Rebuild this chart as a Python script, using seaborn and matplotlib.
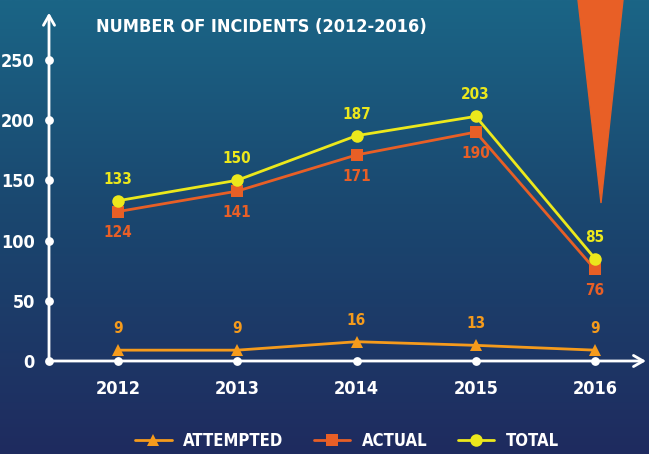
import numpy as np
import pandas as pd
import seaborn as sns
import matplotlib.pyplot as plt
from matplotlib.patches import Polygon

# data
years = ["2012", "2013", "2014", "2015", "2016"]
attempted = [9, 9, 16, 13, 9]
actual = [124, 141, 171, 190, 76]
total = [133, 150, 187, 203, 85]
y_ticks = [0, 50, 100, 150, 200, 250]

series_names = ["ATTEMPTED", "ACTUAL", "TOTAL"]
colors = {"ATTEMPTED": "#f59b1c", "ACTUAL": "#e85f26", "TOTAL": "#ece81c"}
markers = {"ATTEMPTED": "^", "ACTUAL": "s", "TOTAL": "o"}

rows = []
for name, vals in zip(series_names, [attempted, actual, total]):
    for i, v in enumerate(vals):
        rows.append({"pos": i, "value": v, "series": name})
df = pd.DataFrame(rows)

sns.set_style("white")
plt.rcParams["font.family"] = ["DejaVu Sans"]
plt.rcParams["font.stretch"] = "condensed"
plt.rcParams["font.weight"] = "bold"

fig = plt.figure(figsize=(6.49, 4.54), dpi=100)

# background gradient
bg = fig.add_axes([0, 0, 1, 1], zorder=-10)
top = np.array([27, 101, 134]) / 255
mid = np.array([26, 72, 112]) / 255
bot = np.array([31, 43, 95]) / 255
t = np.linspace(0, 1, 256)[:, None]
grad = np.where(t < 0.45, top + (mid - top) * (t / 0.45), mid + (bot - mid) * ((t - 0.45) / 0.55))
bg.imshow(grad[:, None, :], aspect="auto", extent=[0, 1, 0, 1])
bg.axis("off")

# orange wedge top right
fig.patches.append(Polygon([(578 / 649, 1.0), (623 / 649, 1.0), (601 / 649, 1 - 203 / 454)],
                           closed=True, transform=fig.transFigure, color="#e85f26", zorder=-5))

ax = fig.add_axes([0, 93 / 454, 1, (454 - 93) / 454])
ax.patch.set_alpha(0)

sns.lineplot(data=df, x="pos", y="value", hue="series", style="series",
             palette=colors, markers=markers, dashes=False, markersize=9,
             linewidth=2, markeredgewidth=0, ax=ax, zorder=3)

# axes span whole figure width; 2012 sits at px 118, step ~119 px
step = 119.25
x0 = (49 - 118) / step
ax.set_xlim(-118 / step, (649 - 118) / step)
ax.set_ylim(0, 361 / 1.205)

for s in ax.spines.values():
    s.set_visible(False)

# axes with arrows
ax.annotate("", xy=(x0, 289), xytext=(x0, 0),
            arrowprops=dict(arrowstyle="->,head_length=0.7,head_width=0.4", color="white", lw=2,
                            shrinkA=0, shrinkB=0))
ax.annotate("", xy=((646 - 118) / step, 0), xytext=(x0, 0),
            arrowprops=dict(arrowstyle="->,head_length=0.7,head_width=0.4", color="white", lw=2,
                            shrinkA=0, shrinkB=0))
ax.scatter([x0] * len(y_ticks), y_ticks, s=28, color="white", zorder=4, clip_on=False)
ax.scatter(range(len(years)), [0] * len(years), s=28, color="white", zorder=4, clip_on=False)

ax.set_xticks(range(len(years)))
ax.set_xticklabels(years, fontsize=13, color="white", fontweight="bold")
ax.set_yticks(y_ticks)
ax.set_yticklabels([str(v) for v in y_ticks], fontsize=13, color="white", fontweight="bold")
ax.tick_params(axis="x", length=0, pad=14)
ax.tick_params(axis="y", length=0, pad=-25)
ax.set_xlabel("")
ax.set_ylabel("")

# value labels
for i, v in enumerate(total):
    ax.annotate(str(v), (i, v), xytext=(0, 10), textcoords="offset points",
                ha="center", va="bottom", color=colors["TOTAL"], fontsize=11, fontweight="bold")
for i, v in enumerate(actual):
    ax.annotate(str(v), (i, v), xytext=(0, -10), textcoords="offset points",
                ha="center", va="top", color=colors["ACTUAL"], fontsize=11, fontweight="bold")
for i, v in enumerate(attempted):
    ax.annotate(str(v), (i, v), xytext=(0, 10), textcoords="offset points",
                ha="center", va="bottom", color=colors["ATTEMPTED"], fontsize=11, fontweight="bold")

fig.text(261 / 649, 1 - 27 / 454, "NUMBER OF INCIDENTS (2012-2016)", ha="center", va="center",
         color="white", fontsize=13, fontweight="bold")

handles, labels = ax.get_legend_handles_labels()
ax.get_legend().remove()
leg = fig.legend(handles, labels, loc="center", bbox_to_anchor=(347 / 649, 1 - 441 / 454),
                 ncol=3, frameon=False, fontsize=12, columnspacing=1.8, handlelength=2.2,
                 handletextpad=0.7)
for txt in leg.get_texts():
    txt.set_color("white")
    txt.set_fontweight("bold")

fig.savefig("out.png", dpi=100)
